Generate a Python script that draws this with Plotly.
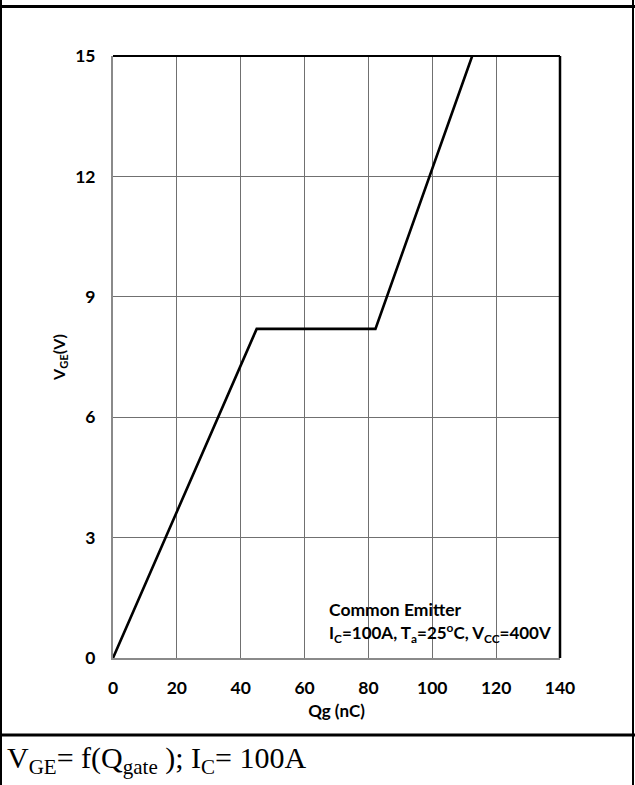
import plotly.graph_objects as go

# Gate charge curve: V_GE versus Qg
qg_nc = [0, 45, 82.2, 112.5]
vge_v = [0, 8.2, 8.2, 15]

x_tick_vals = [0, 20, 40, 60, 80, 100, 120, 140]
y_tick_vals = [0, 3, 6, 9, 12, 15]

W, H = 635, 785
ML, MR, MT, MB = 113, 75, 56, 127
PW, PH = W - ML - MR, H - MT - MB


def px_x(px):
    return (px - ML) / PW


def px_y(py):
    return (H - MB - py) / PH


LABEL_FONT = "Lato"
GRID = "#707070"

fig = go.Figure()
fig.add_trace(go.Scatter(
    x=qg_nc, y=vge_v, mode="lines",
    line=dict(color="black", width=2.6),
    showlegend=False, hoverinfo="skip",
))

shapes = [
    # plot frame: top and right edges
    dict(type="line", xref="paper", yref="paper", x0=0, x1=1, y0=1, y1=1,
         line=dict(color="black", width=2)),
    dict(type="line", xref="paper", yref="paper", x0=1, x1=1, y0=0, y1=1,
         line=dict(color="black", width=2.5)),
    # outer table frame
    dict(type="line", xref="paper", yref="paper", x0=px_x(1), x1=px_x(1),
         y0=px_y(0), y1=px_y(H), line=dict(color="black", width=2)),
    dict(type="line", xref="paper", yref="paper", x0=px_x(633), x1=px_x(633),
         y0=px_y(0), y1=px_y(H), line=dict(color="black", width=2)),
    dict(type="line", xref="paper", yref="paper", x0=px_x(0), x1=px_x(W),
         y0=px_y(6.5), y1=px_y(6.5), line=dict(color="black", width=3)),
    dict(type="line", xref="paper", yref="paper", x0=px_x(0), x1=px_x(W),
         y0=px_y(735), y1=px_y(735), line=dict(color="black", width=3)),
]

annotations = [
    dict(text="<b>Common Emitter</b>", xref="paper", yref="paper",
         x=px_x(327), y=px_y(609), xanchor="left", yanchor="middle",
         showarrow=False, font=dict(family=LABEL_FONT, size=17.5, color="black")),
    dict(text="<b>I<sub>C</sub>=100A, T<sub>a</sub>=25<sup>o</sup>C, V<sub>CC</sub>=400V</b>",
         xref="paper", yref="paper",
         x=px_x(327), y=px_y(633), xanchor="left", yanchor="middle",
         showarrow=False, font=dict(family=LABEL_FONT, size=17, color="black")),
    dict(text="V<sub>GE</sub>= f(Q<sub>gate</sub> ); I<sub>C</sub>= 100A",
         xref="paper", yref="paper",
         x=px_x(5), y=px_y(760), xanchor="left", yanchor="middle",
         showarrow=False,
         font=dict(family="Liberation Serif", size=30, color="black")),
]

tick_font = dict(family=LABEL_FONT, size=17.5, color="black")

fig.update_layout(
    width=W, height=H,
    margin=dict(l=ML, r=MR, t=MT, b=MB),
    paper_bgcolor="white", plot_bgcolor="white",
    shapes=shapes, annotations=annotations,
    xaxis=dict(
        range=[0, 140], tickvals=x_tick_vals,
        ticktext=[f"<b>{v}</b>" for v in x_tick_vals],
        showgrid=True, gridcolor=GRID, gridwidth=1,
        showline=True, linecolor="#8a8a8a", linewidth=2,
        zeroline=False, ticks="", ticklabelstandoff=13,
        tickfont=tick_font,
        title=dict(text="<b>Qg (nC)</b>", standoff=8,
                   font=dict(family=LABEL_FONT, size=17, color="black")),
    ),
    yaxis=dict(
        range=[0, 15], tickvals=y_tick_vals,
        ticktext=[f"<b>{v}</b>" for v in y_tick_vals],
        showgrid=True, gridcolor=GRID, gridwidth=1,
        showline=True, linecolor="#8a8a8a", linewidth=2,
        zeroline=False, ticks="", ticklabelstandoff=12,
        tickfont=tick_font,
        title=dict(text="<b>V<sub>GE</sub>(V)</b>", standoff=6,
                   font=dict(family=LABEL_FONT, size=16, color="black")),
    ),
)

fig.write_html("out.html")
